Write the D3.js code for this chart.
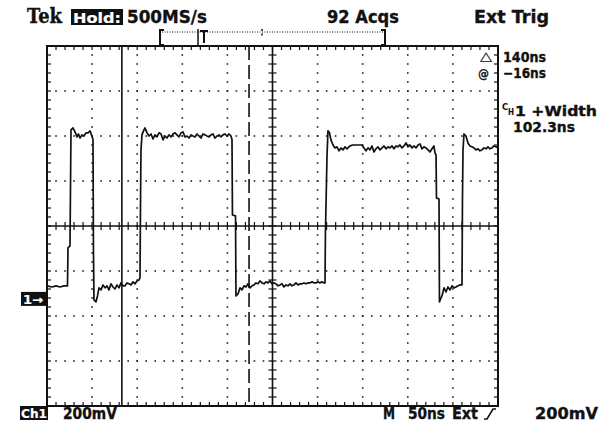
<!DOCTYPE html>
<html><head><meta charset="utf-8">
<script src="https://cdn.jsdelivr.net/npm/d3@7"></script>
<style>html,body{margin:0;padding:0;background:#fff;}svg{display:block;}</style>
</head><body>
<svg id="c" width="612" height="428"></svg>
<script>
// ---- data ----
const timeNs = [
 0, 5.5, 10, 14.4, 18.8, 22.7, 23.3, 25.5, 26.6, 28.8,
 31.0, 33.3, 34.9, 36.6, 38.8, 41.0, 43.2, 45.5, 47.7, 49.3,
 49.9, 51.0, 51.5, 52.1, 54.3, 56.0, 57.6, 59.9, 62.1, 64.3,
 66.5, 68.7, 70.9, 73.2, 75.4, 77.6, 79.8, 82.0, 84.3, 86.5,
 88.7, 90.9, 93.1, 95.3, 97.6, 99.8, 102.0, 103.1, 103.7, 104.2,
 105.3, 107.0, 108.6, 110.9, 113.1, 115.3, 117.5, 119.7, 121.9, 124.2,
 126.4, 128.6, 130.8, 133.0, 135.2, 137.5, 139.7, 141.9, 144.1, 146.3,
 148.6, 150.8, 153.0, 155.2, 157.4, 159.6, 161.9, 164.1, 166.3, 168.5,
 170.7, 172.9, 175.2, 177.4, 179.6, 181.8, 184.0, 186.2, 188.5, 190.7,
 192.9, 195.1, 197.3, 199.5, 201.8, 204.0, 205.1, 205.6, 209.0, 209.5,
 211.7, 214.0, 216.2, 218.4, 220.6, 222.8, 225.0, 227.3, 229.5, 231.7,
 233.9, 236.1, 238.4, 240.6, 242.8, 245.0, 247.2, 249.4, 251.7, 253.9,
 256.1, 258.3, 260.5, 262.7, 265.0, 267.2, 269.4, 271.6, 273.8, 276.0,
 278.3, 280.5, 282.7, 284.9, 287.1, 289.3, 291.6, 293.8, 296.0, 298.2,
 300.4, 302.6, 304.9, 307.1, 308.2, 308.7, 310.4, 311.5, 313.2, 314.8,
 317.1, 319.3, 321.5, 323.7, 325.9, 328.1, 330.4, 332.6, 335.9, 339.2,
 342.6, 345.9, 349.2, 351.4, 353.6, 355.9, 358.1, 360.3, 362.5, 364.7,
 366.9, 369.2, 371.4, 373.6, 375.8, 378.0, 380.2, 382.5, 384.7, 386.9,
 389.1, 391.3, 393.6, 395.8, 398.0, 400.2, 402.4, 404.6, 406.9, 409.1,
 411.3, 413.5, 415.7, 417.9, 420.2, 422.4, 424.6, 426.8, 429.0, 430.1,
 431.3, 431.8, 434.6, 435.1, 436.8, 437.9, 440.1, 442.3, 444.5, 446.8,
 449.0, 451.2, 453.4, 455.6, 457.8, 460.1, 460.6, 461.2, 462.3, 464.5,
 466.7, 468.9, 471.1, 473.3, 475.6, 477.8, 480.0, 482.2, 484.4, 486.7,
 488.9, 491.1, 493.3, 495.5, 497.7, 500
];
const ch1mV = [
 58, 53, 58, 53, 58, 58, 227, 236, 751, 760,
 742, 720, 733, 715, 729, 724, 738, 738, 747, 729,
 724, 707, 218, -4, -13, 13, 49, 40, 62, 49,
 58, 40, 67, 53, 44, 62, 49, 71, 58, 58,
 71, 67, 62, 76, 67, 80, 84, 93, 440, 662,
 729, 747, 760, 738, 724, 733, 711, 729, 720, 738,
 733, 707, 724, 715, 729, 720, 733, 738, 729, 720,
 738, 742, 720, 724, 715, 729, 724, 720, 733, 724,
 715, 733, 729, 724, 720, 729, 733, 715, 724, 729,
 720, 729, 733, 724, 733, 724, 707, 373, 369, 13,
 22, 49, 40, 58, 53, 67, 49, 58, 62, 71,
 67, 80, 71, 67, 76, 71, 80, 67, 71, 67,
 58, 62, 67, 53, 62, 58, 67, 58, 62, 71,
 62, 67, 67, 71, 67, 71, 71, 76, 71, 71,
 76, 71, 76, 71, 71, 293, 631, 747, 738, 707,
 684, 671, 676, 658, 671, 662, 676, 667, 680, 684,
 684, 684, 684, 671, 658, 671, 662, 680, 653, 667,
 676, 662, 671, 680, 667, 676, 671, 680, 667, 680,
 676, 684, 671, 680, 693, 676, 684, 671, 680, 671,
 684, 689, 667, 676, 671, 662, 653, 667, 680, 649,
 640, 449, 444, -13, 4, 13, 49, 31, 53, 40,
 58, 49, 53, 58, 62, 62, 440, 662, 733, 724,
 693, 680, 676, 671, 662, 667, 658, 662, 671, 667,
 676, 667, 671, 680, 676, 671
];
const cursorNs = [83, 224];          // solid, dashed
const timeDomainNs = [0, 500];       // 10 div x 50 ns
const voltDomainmV = [-476, 1124];   // 8 div x 200 mV, ch1 offset
const headerLabels = ["Tek", "Hold:", "500MS/s", "92 Acqs", "Ext Trig"];
const readoutLabels = ["\u25B3", "140ns", "@", "\u221216ns", "1 +Width", "102.3ns"];
const footerLabels = ["Ch1", "200mV", "M", "50ns", "Ext", "200mV"];

// ---- layout ----
const L = 47, R = 498, T = 46, B = 406;
const svg = d3.select("#c");
const x = d3.scaleLinear().domain(timeDomainNs).range([L, R]);
const y = d3.scaleLinear().domain(voltDomainmV).range([B, T]);
const xd = d3.scaleLinear().domain([-5, 5]).range([L, R]);
const yd = d3.scaleLinear().domain([-4, 4]).range([B, T]);
const cx = xd(0), cy = yd(0);
const g = svg.append("g");

// grid dots
const minorX = d3.range(-25, 26).map(i => i / 5);
const minorY = d3.range(-20, 21).map(i => i / 5);
const majX = d3.range(-4, 5).filter(d => d !== 0);
const majY = d3.range(-3, 4).filter(d => d !== 0);
const dots = [];
majX.forEach(d => minorY.forEach(e => { if (Math.abs(e) < 4) dots.push([xd(d), yd(e)]); }));
majY.forEach(e => minorX.forEach(d => { if (Math.abs(d) < 5) dots.push([xd(d), yd(e)]); }));
g.selectAll("rect.dot").data(dots).join("rect").attr("class", "dot")
  .attr("x", d => d[0] - 0.8).attr("y", d => d[1] - 0.8).attr("width", 1.6).attr("height", 1.6).attr("fill", "#222");

// edge ticks
const tk = g.append("g").attr("stroke", "#111").attr("stroke-width", 1.2);
minorX.forEach(d => {
  tk.append("line").attr("x1", xd(d)).attr("x2", xd(d)).attr("y1", T).attr("y2", T + 4);
  tk.append("line").attr("x1", xd(d)).attr("x2", xd(d)).attr("y1", B).attr("y2", B - 4);
  tk.append("line").attr("x1", xd(d)).attr("x2", xd(d)).attr("y1", cy - 4).attr("y2", cy + 4);
});
minorY.forEach(e => {
  tk.append("line").attr("y1", yd(e)).attr("y2", yd(e)).attr("x1", L).attr("x2", L + 4);
  tk.append("line").attr("y1", yd(e)).attr("y2", yd(e)).attr("x1", R).attr("x2", R - 4);
  tk.append("line").attr("y1", yd(e)).attr("y2", yd(e)).attr("x1", cx - 4).attr("x2", cx + 4);
});
// center axes
g.append("line").attr("x1", L).attr("x2", R).attr("y1", cy).attr("y2", cy).attr("stroke", "#111").attr("stroke-width", 1.6);
g.append("line").attr("x1", cx).attr("x2", cx).attr("y1", T).attr("y2", B).attr("stroke", "#111").attr("stroke-width", 1.6);
// frame
g.append("rect").attr("x", L).attr("y", T).attr("width", R - L).attr("height", B - T)
  .attr("fill", "none").attr("stroke", "#111").attr("stroke-width", 2);

// cursors
g.append("line").attr("x1", x(cursorNs[0])).attr("x2", x(cursorNs[0])).attr("y1", T).attr("y2", B)
  .attr("stroke", "#111").attr("stroke-width", 1.6);
g.append("line").attr("x1", x(cursorNs[1])).attr("x2", x(cursorNs[1])).attr("y1", T).attr("y2", B)
  .attr("stroke", "#111").attr("stroke-width", 1.6).attr("stroke-dasharray", "14,5");

// trace
const pts = timeNs.map((t, i) => [t, ch1mV[i]]);
g.append("path").datum(pts)
  .attr("d", d3.line().x(d => x(d[0])).y(d => y(d[1])))
  .attr("fill", "none").attr("stroke", "#111").attr("stroke-width", 1.7).attr("stroke-linejoin", "round");

// record view bar
const rb = svg.append("g").attr("stroke", "#111").attr("fill", "none");
rb.append("line").attr("x1", 162).attr("x2", 385).attr("y1", 32).attr("y2", 32).attr("stroke-width", 1).attr("stroke-dasharray", "1,1.5");
rb.append("path").attr("d", "M164,30 H160 V45 H164").attr("stroke-width", 2);
rb.append("path").attr("d", "M381,30 H385 V45 H381").attr("stroke-width", 2);
rb.append("line").attr("x1", 198).attr("x2", 198).attr("y1", 29).attr("y2", T).attr("stroke-width", 1.5);
rb.append("path").attr("d", "M200,31 H208 M204,31 V43").attr("stroke-width", 2);
rb.append("path").attr("d", "M262,29 V31 M262,33.5 V35.5").attr("stroke-width", 1.5);

// ---- texts ----
const font = "'DejaVu Sans', sans-serif";
function txt(s, xx, yy, size, len, opts = {}) {
  const t = svg.append("text").attr("x", xx).attr("y", yy).text(s)
    .attr("font-family", opts.family || font).attr("font-weight", "bold")
    .attr("font-size", size).attr("fill", opts.fill || "#111")
    .attr("stroke", opts.fill || "#111").attr("stroke-width", opts.sw == null ? 0.35 : opts.sw);
  if (len) t.attr("textLength", len).attr("lengthAdjust", "spacingAndGlyphs");
  return t;
}
// header
txt(headerLabels[0], 27, 23, 20, 35, {family: "'DejaVu Serif', serif"});
svg.append("rect").attr("x", 71).attr("y", 9).attr("width", 52).attr("height", 16).attr("fill", "#111");
txt(headerLabels[1], 73, 22.5, 14, 48, {fill: "#fff", sw: 0.2});
txt(headerLabels[2], 127, 23, 17, 80);
txt(headerLabels[3], 327, 23, 17, 72);
txt(headerLabels[4], 474, 23, 17, 75);
// right readouts
txt(readoutLabels[0], 480, 60, 12, 12, {sw: 0.2});
txt(readoutLabels[1], 503, 62, 13.5, 43);
txt(readoutLabels[2], 478, 77.5, 12.5, 11, {sw: 0.2});
txt(readoutLabels[3], 503, 78, 13.5, 43);
txt("C", 502, 110, 9, 6, {sw: 0.1});
txt("H", 508, 115, 8, 6, {sw: 0.1});
txt(readoutLabels[4], 515, 116, 14, 82);
txt(readoutLabels[5], 513, 132, 14, 62);
// ground marker
svg.append("rect").attr("x", 21).attr("y", y(0) - 7).attr("width", 25).attr("height", 14).attr("fill", "#111");
txt("1\u2192", 23, y(0) + 5, 12, 20, {fill: "#fff", sw: 0.2});
// footer
svg.append("rect").attr("x", 20).attr("y", 406).attr("width", 28).attr("height", 14).attr("fill", "#111");
txt(footerLabels[0], 21, 418, 13, 26, {fill: "#fff", sw: 0.2});
txt(footerLabels[1], 63, 419, 15, 54);
txt(footerLabels[2], 383, 419, 15, 12);
txt(footerLabels[3], 408, 419, 15, 37);
txt(footerLabels[4], 452, 419, 15, 26);
svg.append("path").attr("d", "M484,419 H487 L493,409 H496").attr("stroke", "#111").attr("stroke-width", 1.6).attr("fill", "none");
txt(footerLabels[5], 535, 419, 15, 63);
</script>
</body></html>
